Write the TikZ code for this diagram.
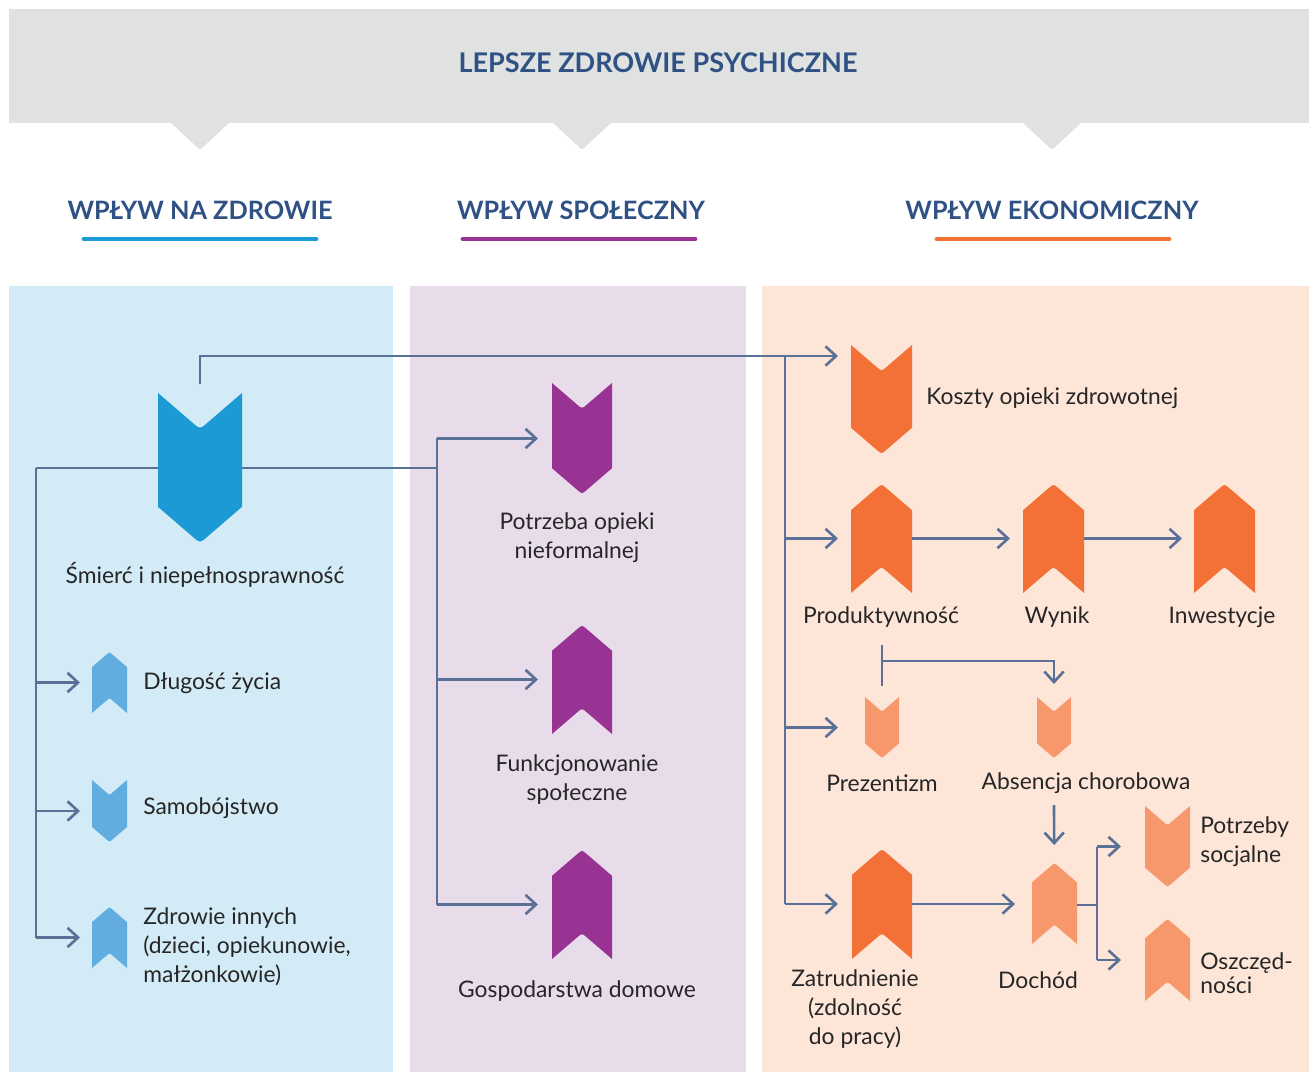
\documentclass[tikz,border=0pt]{standalone}
\usepackage{fontspec}
\setmainfont{Lato}
\usetikzlibrary{arrows.meta,calc}

\definecolor{bandc}{HTML}{DFE2E1}
\definecolor{headc}{HTML}{2F5183}
\definecolor{textc}{HTML}{262626}
\definecolor{linkc}{HTML}{5A7096}
\definecolor{hblue}{HTML}{1B9AD6}
\definecolor{hlblue}{HTML}{62ADDF}
\definecolor{spurple}{HTML}{993393}
\definecolor{eorange}{HTML}{F37137}
\definecolor{elorange}{HTML}{F7976C}
\definecolor{hpanel}{HTML}{D3EBF6}
\definecolor{spanel}{HTML}{E8DCEB}
\definecolor{epanel}{HTML}{FDE6D8}

\newdimen\pxu \pxu=0.02cm

% name, cx, cy, width, height, colour
\newcommand\chevdown[6]{%
  \pgfmathsetmacro\xa{#2-#4/2}\pgfmathsetmacro\xb{#2+#4/2}%
  \pgfmathsetmacro\ya{#3-#5/2}\pgfmathsetmacro\yb{#3+#5/2}%
  \pgfmathsetmacro\dd{0.43*#4}\pgfmathsetmacro\tx{0.16*#4/2}\pgfmathsetmacro\ty{0.16*\dd}%
  \node[chevbox, minimum width=#4\pxu, minimum height=#5\pxu] (#1) at (#2,#3) {};
  \fill[#6] (\xa,\ya) -- ({#2-\tx},{\ya+\dd-\ty}) .. controls (#2,{\ya+\dd}) .. ({#2+\tx},{\ya+\dd-\ty})
    -- (\xb,\ya) -- (\xb,{\yb-\dd}) -- ({#2+\tx},{\yb-\ty}) .. controls (#2,\yb) .. ({#2-\tx},{\yb-\ty})
    -- (\xa,{\yb-\dd}) -- cycle;}
\newcommand\chevup[6]{%
  \pgfmathsetmacro\xa{#2-#4/2}\pgfmathsetmacro\xb{#2+#4/2}%
  \pgfmathsetmacro\ya{#3-#5/2}\pgfmathsetmacro\yb{#3+#5/2}%
  \pgfmathsetmacro\dd{0.43*#4}\pgfmathsetmacro\tx{0.16*#4/2}\pgfmathsetmacro\ty{0.16*\dd}%
  \node[chevbox, minimum width=#4\pxu, minimum height=#5\pxu] (#1) at (#2,#3) {};
  \fill[#6] (\xa,{\ya+\dd}) -- ({#2-\tx},{\ya+\ty}) .. controls (#2,\ya) .. ({#2+\tx},{\ya+\ty})
    -- (\xb,{\ya+\dd}) -- (\xb,\yb) -- ({#2+\tx},{\yb-\dd+\ty}) .. controls (#2,{\yb-\dd}) .. ({#2-\tx},{\yb-\dd+\ty})
    -- (\xa,\yb) -- cycle;}

\begin{document}
\begin{tikzpicture}[x=0.02cm,y=-0.02cm,
  chevbox/.style={inner sep=0,outer sep=0},
  lbl/.style={font=\fontsize{13}{16.5}\selectfont,text=textc,inner sep=0},
  head/.style={font=\fontsize{14.4}{16}\selectfont\bfseries,text=headc,inner sep=0},
  uline/.style={line width=2.8pt,line cap=round},
  link/.style={draw=linkc,line width=1.5pt},
  arr/.style={link,-{Straight Barb[length=6pt,width=11pt]}}]
\useasboundingbox (0,0) rectangle (1309,1072);

\fill[bandc] (9,9) rectangle (1309,123);
\foreach \x in {200,582,1052}
  \fill[bandc] (\x-30,122) -- (\x-2,148) -- (\x,149) -- (\x+2,148) -- (\x+30,122) -- cycle;
\node[head,font=\fontsize{15.4}{17}\selectfont\bfseries] (title) at (658,63) {LEPSZE ZDROWIE PSYCHICZNE};

\node[head] (h-health) at (200,210) {WPŁYW NA ZDROWIE};
\node[head] (h-social) at (581,210) {WPŁYW SPOŁECZNY};
\node[head] (h-econ) at (1052,210) {WPŁYW EKONOMICZNY};
\draw[uline,hblue] (84,239) -- (316,239);
\draw[uline,spurple] (463,239) -- (695,239);
\draw[uline,eorange] (937,239) -- (1169,239);

\fill[hpanel] (9,286) rectangle (393,1072);
\fill[spanel] (410,286) rectangle (746,1072);
\fill[epanel] (762,286) rectangle (1309,1072);

\coordinate (hbus) at (36,467);
\coordinate (sbus) at (437,438);
\coordinate (ebus) at (785,356);
\coordinate (split) at (1097,905);

\node[chevbox,minimum width=84\pxu,minimum height=150\pxu] (smierc) at (200,468) {};
\draw[link] (hbus |- smierc) -- (sbus |- smierc);

\chevdown{smierc}{200}{468}{84}{150}{hblue}
\chevup{dlugosc}{109.5}{682.5}{35}{61}{hlblue}
\chevdown{samob}{109.5}{811}{35}{62}{hlblue}
\chevup{zdrowie}{109.5}{937.5}{35}{61}{hlblue}

\chevdown{potrzeba}{582}{438.5}{60}{111}{spurple}
\chevup{funkcj}{582}{679.5}{60}{109}{spurple}
\chevup{gosp}{582}{904.5}{60}{109}{spurple}

\chevdown{koszty}{881.5}{399.5}{61}{109}{eorange}
\chevup{produkt}{881.5}{538.5}{61}{109}{eorange}
\chevup{wynik}{1053.5}{538.5}{61}{109}{eorange}
\chevup{inwest}{1224.5}{538.5}{61}{109}{eorange}
\chevdown{prezent}{882}{727.5}{34}{61}{elorange}
\chevdown{absencja}{1054}{727.5}{34}{61}{elorange}
\chevup{zatrud}{882}{904}{60}{110}{eorange}
\chevup{dochod}{1054.5}{903.5}{45}{81}{elorange}
\chevdown{socjal}{1167.5}{846.5}{45}{81}{elorange}
\chevup{oszcz}{1167.5}{960}{45}{82}{elorange}

\node[lbl] (l-smierc) at (205,575) {Śmierć i niepełnosprawność};
\node[lbl,anchor=west] (l-dlugosc) at (143,683) {Długość życia};
\node[lbl,anchor=west] (l-samob) at (143,808) {Samobójstwo};
\node[lbl,anchor=west,align=left] (l-zdrowie) at (143,947) {Zdrowie innych\\(dzieci, opiekunowie,\\małżonkowie)};
\node[lbl,align=center] (l-potrzeba) at (577,538) {Potrzeba opieki\\nieformalnej};
\node[lbl,align=center] (l-funkcj) at (577,780) {Funkcjonowanie\\społeczne};
\node[lbl] (l-gosp) at (577,991) {Gospodarstwa domowe};
\node[lbl,anchor=west] (l-koszty) at (926,398) {Koszty opieki zdrowotnej};
\node[lbl] (l-produkt) at (881,617) {Produktywność};
\node[lbl] (l-wynik) at (1057,617) {Wynik};
\node[lbl] (l-inwest) at (1222,617) {Inwestycje};
\node[lbl] (l-prezent) at (882,783) {Prezentizm};
\node[lbl] (l-absencja) at (1086,783) {Absencja chorobowa};
\node[lbl,align=center] (l-zatrud) at (855,1009) {Zatrudnienie\\(zdolność\\do pracy)};
\node[lbl] (l-dochod) at (1038,980) {Dochód};
\node[lbl,anchor=west,align=left] (l-socjal) at (1200,842) {Potrzeby\\socjalne};
\node[lbl,anchor=west,align=left,font=\fontsize{13}{13.6}\selectfont] (l-oszcz) at (1200,973) {Oszczęd-\\ności};

\draw[link] (hbus |- smierc) -- (hbus |- zdrowie);
\foreach \n in {dlugosc,samob,zdrowie}
  \draw[arr,shorten >=12\pxu] (hbus |- \n) -- (\n);
\draw[link] (sbus) -- (sbus |- gosp);
\foreach \n in {potrzeba,funkcj,gosp}
  \draw[arr,shorten >=14\pxu] (sbus |- \n) -- (\n);

\draw[arr] ($(smierc.north)+(0,-9)$) |- ($(koszty.north west)+(-13,11)$);
\draw[link] (ebus) -- (ebus |- zatrud);
\foreach \n/\g in {produkt/13,prezent/27,zatrud/14}
  \draw[arr,shorten >=\g\pxu] (ebus |- \n) -- (\n);
\draw[arr,shorten >=13\pxu] (produkt) -- (wynik);
\draw[arr,shorten >=12\pxu] (wynik) -- (inwest);

\draw[link] ($(prezent.north)+(0,-52)$) -- ($(prezent.north)+(0,-11)$);
\draw[arr] ($(prezent.north)+(0,-36)$) -| ($(absencja.north)+(0,-13)$);
\draw[arr,shorten >=18\pxu] ($(absencja.south)+(0,47)$) -- (dochod);
\draw[arr,shorten >=17\pxu] (zatrud.east) -- (zatrud.east -| dochod.west);
\draw[link] (dochod.east |- split) -- (split);
\draw[link] (split |- socjal) -- (split |- oszcz);
\foreach \n in {socjal,oszcz}
  \draw[arr,shorten >=24\pxu] (split |- \n) -- (\n);
\end{tikzpicture}
\end{document}
